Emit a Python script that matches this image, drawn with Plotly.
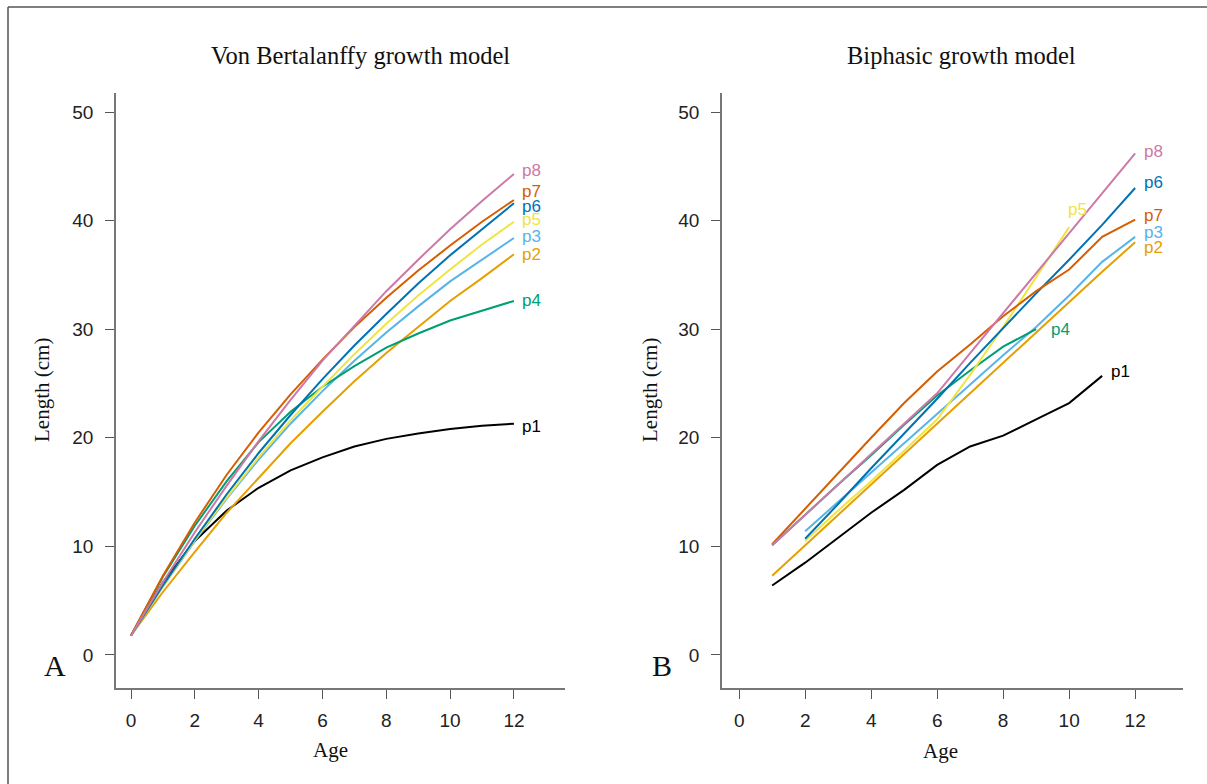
import plotly.graph_objects as go

# ---- Von Bertalanffy fitted lengths (cm), ages 0..12 ----
vb_age = [0, 1, 2, 3, 4, 5, 6, 7, 8, 9, 10, 11, 12]
vb_p1 = [1.8, 6.7, 10.5, 13.3, 15.4, 17.0, 18.2, 19.2, 19.9, 20.4, 20.8, 21.1, 21.3]
vb_p2 = [1.8, 5.8, 9.5, 13.1, 16.3, 19.5, 22.4, 25.2, 27.8, 30.2, 32.6, 34.7, 36.9]
vb_p3 = [1.8, 6.3, 10.5, 14.4, 18.0, 21.3, 24.3, 27.1, 29.7, 32.1, 34.4, 36.4, 38.4]
vb_p4 = [1.8, 7.2, 11.9, 16.0, 19.6, 22.4, 24.7, 26.6, 28.3, 29.6, 30.8, 31.7, 32.6]
vb_p5 = [1.8, 6.3, 10.6, 14.5, 18.2, 21.6, 24.7, 27.7, 30.5, 33.1, 35.5, 37.8, 39.9]
vb_p6 = [1.8, 6.4, 10.7, 14.8, 18.6, 22.1, 25.4, 28.5, 31.4, 34.2, 36.8, 39.2, 41.6]
vb_p7 = [1.8, 7.3, 12.2, 16.6, 20.5, 24.0, 27.2, 30.2, 32.9, 35.4, 37.7, 39.9, 41.9]
vb_p8 = [1.8, 6.7, 11.3, 15.6, 19.7, 23.5, 27.1, 30.3, 33.5, 36.4, 39.2, 41.8, 44.3]

# ---- Biphasic fitted lengths (cm) ----
bp_p1_age = [1, 2, 3, 4, 5, 6, 7, 8, 9, 10, 11]
bp_p1 = [6.4, 8.5, 10.8, 13.1, 15.2, 17.5, 19.2, 20.2, 21.7, 23.2, 25.7]
bp_p2_age = [1, 2, 3, 4, 5, 6, 7, 8, 9, 10, 11, 12]
bp_p2 = [7.3, 10.1, 12.9, 15.7, 18.5, 21.3, 24.1, 26.9, 29.7, 32.5, 35.3, 38.0]
bp_p3_age = [2, 3, 4, 5, 6, 7, 8, 9, 10, 11, 12]
bp_p3 = [11.4, 14.1, 16.8, 19.5, 22.2, 24.9, 27.6, 30.2, 33.1, 36.2, 38.5]
bp_p4_age = [1, 2, 3, 4, 5, 6, 7, 8, 9]
bp_p4 = [10.1, 12.9, 15.7, 18.4, 21.2, 23.9, 26.2, 28.4, 30.0]
bp_p5_age = [2, 3, 4, 5, 6, 7, 8, 9, 10]
bp_p5 = [10.5, 13.3, 16.0, 18.8, 21.7, 25.8, 30.2, 34.8, 39.4]
bp_p6_age = [2, 3, 4, 5, 6, 7, 8, 9, 10, 11, 12]
bp_p6 = [10.7, 13.9, 17.2, 20.4, 23.6, 26.9, 30.1, 33.3, 36.4, 39.6, 43.0]
bp_p7_age = [1, 2, 3, 4, 5, 6, 7, 8, 9, 10, 11, 12]
bp_p7 = [10.2, 13.5, 16.8, 20.0, 23.2, 26.1, 28.6, 31.2, 33.5, 35.5, 38.5, 40.1]
bp_p8_age = [1, 2, 3, 4, 5, 6, 7, 8, 9, 10, 11, 12]
bp_p8 = [10.1, 12.9, 15.7, 18.5, 21.3, 24.1, 27.8, 31.5, 35.1, 38.8, 42.5, 46.2]

names = ["p1", "p2", "p3", "p4", "p5", "p6", "p7", "p8"]
colors = ["#000000", "#E69F00", "#56B4E9", "#009E73",
          "#F0E442", "#0072B2", "#D55E00", "#CC79A7"]

x_ticks = [0, 2, 4, 6, 8, 10, 12]
y_ticks = [0, 10, 20, 30, 40, 50]

vb_series = [vb_p1, vb_p2, vb_p3, vb_p4, vb_p5, vb_p6, vb_p7, vb_p8]
bp_series = [(bp_p1_age, bp_p1), (bp_p2_age, bp_p2), (bp_p3_age, bp_p3),
             (bp_p4_age, bp_p4), (bp_p5_age, bp_p5), (bp_p6_age, bp_p6),
             (bp_p7_age, bp_p7), (bp_p8_age, bp_p8)]

# end-label placement (label x, label y) per series, nudged to limit overlap
vb_label_pos = {"p1": (12.2, 21.0), "p2": (12.2, 36.9), "p3": (12.2, 38.5),
                "p4": (12.2, 32.6), "p5": (12.2, 40.1), "p6": (12.2, 41.3),
                "p7": (12.2, 42.7), "p8": (12.2, 44.6)}
bp_label_pos = {"p1": (11.2, 26.1), "p2": (12.2, 37.5), "p3": (12.2, 38.9),
                "p4": (9.4, 30.0), "p5": (9.9, 41.0), "p6": (12.2, 43.5),
                "p7": (12.2, 40.5), "p8": (12.2, 46.4)}

W, H = 1207, 784
SANS = "Liberation Sans, Arial, sans-serif"
SERIF = "Liberation Serif, Times New Roman, serif"


def px_x(p):
    return p / W


def px_y(p):
    return 1 - p / H


fig = go.Figure()

for name, col, ys in zip(names, colors, vb_series):
    fig.add_trace(go.Scatter(x=vb_age, y=ys, mode="lines", name=name,
                             line=dict(color=col, width=2),
                             xaxis="x", yaxis="y", showlegend=False))

for name, col, (xs, ys) in zip(names, colors, bp_series):
    fig.add_trace(go.Scatter(x=xs, y=ys, mode="lines", name=name,
                             line=dict(color=col, width=2),
                             xaxis="x2", yaxis="y2", showlegend=False))

annotations = []
for name, col in zip(names, colors):
    lx, ly = vb_label_pos[name]
    annotations.append(dict(x=lx, y=ly, xref="x", yref="y", text=name,
                            showarrow=False, xanchor="left", yanchor="middle",
                            font=dict(family=SANS, size=17, color=col)))
    lx, ly = bp_label_pos[name]
    annotations.append(dict(x=lx, y=ly, xref="x2", yref="y2", text=name,
                            showarrow=False, xanchor="left", yanchor="middle",
                            font=dict(family=SANS, size=17, color=col)))

text_items = [
    ("Von Bertalanffy growth model", 360, 55, 24.5, 0),
    ("Biphasic growth model", 961, 55, 24.5, 0),
    ("Length (cm)", 42, 390, 21, -90),
    ("Length (cm)", 650, 390, 21, -90),
    ("Age", 330, 750, 21, 0),
    ("Age", 940, 751, 21, 0),
    ("A", 55, 665, 30, 0),
    ("B", 662, 665, 30, 0),
]
for txt, x, y, size, ang in text_items:
    annotations.append(dict(x=px_x(x), y=px_y(y), xref="paper", yref="paper",
                            text=txt, showarrow=False, textangle=ang,
                            xanchor="center", yanchor="middle",
                            font=dict(family=SERIF, size=size, color="#111111")))

axis_common = dict(showgrid=False, zeroline=False, showline=True,
                   linecolor="#777777", linewidth=1.5, ticks="outside",
                   ticklen=9, tickwidth=1.3, tickcolor="#555555",
                   tickfont=dict(family=SANS, size=19, color="#222222"),
                   fixedrange=True)

y_dom = [px_y(688), px_y(93)]
fig.update_layout(
    width=W, height=H,
    margin=dict(l=0, r=0, t=0, b=0),
    paper_bgcolor="white", plot_bgcolor="white",
    xaxis=dict(domain=[px_x(116), px_x(565)], range=[-0.47, 13.6],
               tickvals=x_ticks, anchor="y", ticklabelstandoff=5, **axis_common),
    yaxis=dict(domain=y_dom, range=[-3.04, 51.75], tickvals=y_ticks,
               anchor="x", ticklabelstandoff=8, **axis_common),
    xaxis2=dict(domain=[px_x(722), px_x(1183)], range=[-0.52, 13.45],
                tickvals=x_ticks, anchor="y2", ticklabelstandoff=5, **axis_common),
    yaxis2=dict(domain=y_dom, range=[-3.04, 51.75], tickvals=y_ticks,
                anchor="x2", ticklabelstandoff=8, **axis_common),
    annotations=annotations,
    shapes=[
        dict(type="line", xref="paper", yref="paper",
             x0=px_x(8), x1=1, y0=px_y(7), y1=px_y(7),
             line=dict(color="#555555", width=1.5)),
        dict(type="line", xref="paper", yref="paper",
             x0=px_x(8), x1=px_x(8), y0=0, y1=px_y(7),
             line=dict(color="#555555", width=1.5)),
    ],
)

fig.write_html("out.html")
